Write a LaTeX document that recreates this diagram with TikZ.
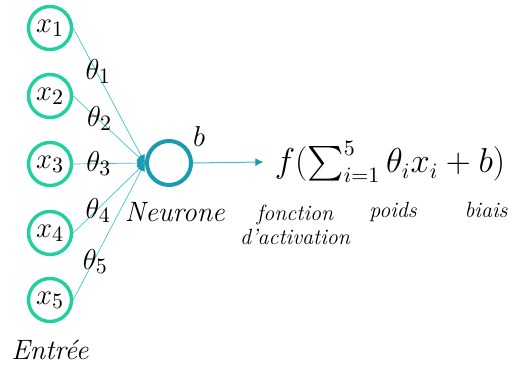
\documentclass[tikz,border=0pt]{standalone}
\usepackage{amsmath}
\usepackage{tikz}
\usetikzlibrary{arrows.meta}
\definecolor{inputgreen}{HTML}{20D0A0}
\definecolor{neurteal}{HTML}{1A9CB0}
\definecolor{linkcyan}{HTML}{3CC8CC}
\definecolor{outblue}{HTML}{40BCD8}

\begin{document}
\begin{tikzpicture}[
  x=0.5pt, y=-0.5pt,
  font=\fontsize{14}{16}\selectfont,
  grand/.style={font=\fontsize{15.5}{18}\selectfont},
  entree/.style={circle, draw=inputgreen, line width=1.7pt, minimum size=21.5pt, inner sep=0pt, grand},
  neurone/.style={circle, draw=neurteal, line width=2pt, minimum size=22pt, inner sep=0pt},
  lien/.style={draw=linkcyan, line width=0.35pt, -{Latex[length=4pt, width=4pt, color=neurteal]}},
  sortie/.style={draw=outblue, line width=0.5pt, -{Latex[length=4pt, width=4pt, color=neurteal]}},
  poids/.style={inner sep=0pt, grand},
  legende/.style={font=\fontsize{11}{12}\selectfont\itshape, align=center}
]
\useasboundingbox (0,0) rectangle (509,367);

\node[neurone] (n) at (169,163) {};
\node[grand] (biasb) at (199,137) {$b$};
\node (neurlab) at (175,212) {\textit{Neurone}};

% entrees et poids
\foreach \i/\y/\p in {1/28/0.32, 2/96/0.34, 3/164/0.33, 4/233/0.32, 5/300/0.28} {
  \node[entree] (x\i) at (50,\y) {$x_{\i}$};
  \draw[lien] (x\i.east) -- node[pos=\p, poids, xshift=1pt] {$\theta_{\i}$} (n.west);
}
\node (entlab) at (50,350) {\textit{Entrée}};

% sortie
\node[inner sep=1pt, font=\fontsize{16.2}{19}\selectfont] (f) at (390,162) {$f(\sum_{i=1}^{5}\theta_i x_i + b)$};
\draw[sortie] (n.east) -- ([xshift=-4.5pt]f.west);

\node[legende] (fact) at (295,225) {fonction\\d'activation};
\node[legende, anchor=base] (wlab) at (393,218) {poids};
\node[legende, anchor=base] (blab) at (486,218) {biais};
\end{tikzpicture}
\end{document}
